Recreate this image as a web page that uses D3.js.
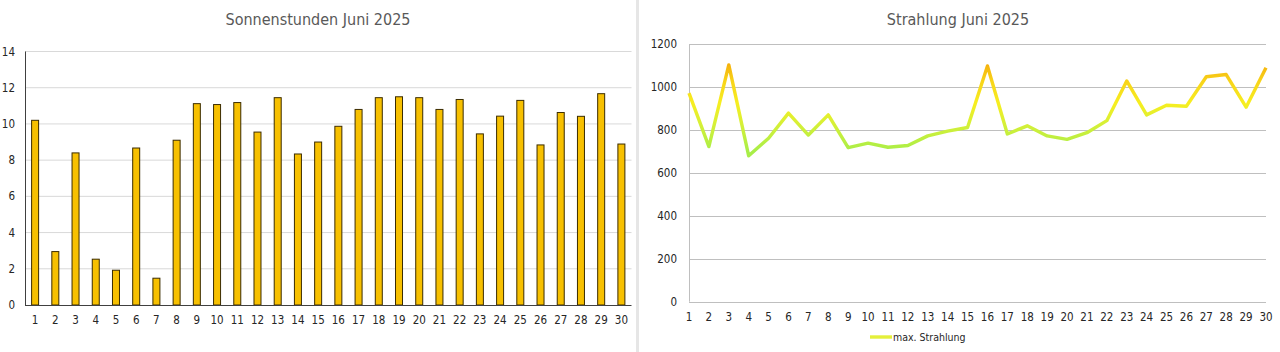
<!DOCTYPE html>
<html>
<head>
<meta charset="utf-8">
<script src="https://cdn.jsdelivr.net/npm/d3@7"></script>
<style>
  body { margin: 0; background: #fff; }
  text { font-family: "DejaVu Sans Condensed", "DejaVu Sans", sans-serif; }
</style>
</head>
<body>
<div id="chart"></div>
<script>
// data
const days = d3.range(1, 31);
const sunHours = [10.2, 2.95, 8.4, 2.53, 1.92, 8.67, 1.48, 9.1, 11.12, 11.07,
  11.18, 9.55, 11.45, 8.34, 9.0, 9.87, 10.8, 11.45, 11.5, 11.45,
  10.8, 11.35, 9.45, 10.43, 11.3, 8.84, 10.63, 10.42, 11.67, 8.89];
const radiation = [972, 723, 1104, 680, 762, 879, 777, 871, 718, 739,
  720, 728, 773, 795, 812, 1099, 782, 820, 773, 757,
  788, 844, 1029, 871, 916, 911, 1049, 1059, 907, 1091];
const sunTicks = [0, 2, 4, 6, 8, 10, 12, 14];
const radTicks = [0, 200, 400, 600, 800, 1000, 1200];

const svg = d3.select("#chart").append("svg")
    .attr("width", 1280)
    .attr("height", 352);

// divider between the two charts
svg.append("rect")
    .attr("x", 636).attr("y", 0)
    .attr("width", 3).attr("height", 352)
    .attr("fill", "#e6e6e6");

// ---- left: Sonnenstunden ----
const x1 = d3.scaleBand().domain(days).range([25, 631.5]);
const y1 = d3.scaleLinear().domain([0, 14]).range([305, 51.5]);

svg.append("text")
    .attr("x", 318).attr("y", 25)
    .attr("text-anchor", "middle")
    .attr("font-size", 16)
    .attr("fill", "#595959")
    .text("Sonnenstunden Juni 2025");

svg.append("g")
    .selectAll("line")
    .data(sunTicks.slice(1))
    .join("line")
    .attr("x1", 25).attr("x2", 631.5)
    .attr("y1", d => y1(d)).attr("y2", d => y1(d))
    .attr("stroke", "#d9d9d9");

svg.append("g")
    .selectAll("text")
    .data(sunTicks)
    .join("text")
    .attr("x", 15).attr("y", d => y1(d) + 4)
    .attr("text-anchor", "end")
    .attr("font-size", 11.5)
    .attr("fill", "#262626")
    .text(d => d);

svg.append("g")
    .selectAll("rect")
    .data(sunHours)
    .join("rect")
    .attr("x", (d, i) => x1(days[i]) + x1.bandwidth() / 2 - 3.5)
    .attr("y", d => y1(d))
    .attr("width", 7)
    .attr("height", d => y1(0) - y1(d))
    .attr("fill", "#f7c000")
    .attr("stroke", "#3b2c00")
    .attr("stroke-width", 1);

svg.append("line")
    .attr("x1", 25.5).attr("x2", 25.5)
    .attr("y1", 51.5).attr("y2", 305)
    .attr("stroke", "#404040");
svg.append("line")
    .attr("x1", 25).attr("x2", 631.5)
    .attr("y1", 305.5).attr("y2", 305.5)
    .attr("stroke", "#404040");

svg.append("g")
    .selectAll("text")
    .data(days)
    .join("text")
    .attr("x", d => x1(d) + x1.bandwidth() / 2)
    .attr("y", 324)
    .attr("text-anchor", "middle")
    .attr("font-size", 11.5)
    .attr("fill", "#262626")
    .text(d => d);

// ---- right: Strahlung ----
const x2 = d3.scalePoint().domain(days).range([689, 1266]);
const y2 = d3.scaleLinear().domain([0, 1200]).range([301.7, 44.3]);

svg.append("text")
    .attr("x", 958).attr("y", 25)
    .attr("text-anchor", "middle")
    .attr("font-size", 16)
    .attr("fill", "#595959")
    .text("Strahlung Juni 2025");

svg.append("g")
    .selectAll("line")
    .data(radTicks)
    .join("line")
    .attr("x1", 689).attr("x2", 1266)
    .attr("y1", d => Math.round(y2(d)) + 0.5).attr("y2", d => Math.round(y2(d)) + 0.5)
    .attr("stroke", "#bfbfbf");

svg.append("line")
    .attr("x1", 689.5).attr("x2", 689.5)
    .attr("y1", y2(1200)).attr("y2", y2(0))
    .attr("stroke", "#bfbfbf");

svg.append("g")
    .selectAll("text")
    .data(radTicks)
    .join("text")
    .attr("x", 677).attr("y", d => y2(d) + 4)
    .attr("text-anchor", "end")
    .attr("font-size", 11.5)
    .attr("fill", "#262626")
    .text(d => d);

svg.append("g")
    .selectAll("text")
    .data(days)
    .join("text")
    .attr("x", d => x2(d))
    .attr("y", 321)
    .attr("text-anchor", "middle")
    .attr("font-size", 11.5)
    .attr("fill", "#262626")
    .text(d => d);

// vertical colour gradient by value
const grad = svg.append("defs").append("linearGradient")
    .attr("id", "radGrad")
    .attr("gradientUnits", "userSpaceOnUse")
    .attr("x1", 0).attr("x2", 0)
    .attr("y1", y2(700)).attr("y2", y2(1110));
grad.append("stop").attr("offset", "0%").attr("stop-color", "#a8ee48");
grad.append("stop").attr("offset", "30%").attr("stop-color", "#d4f038");
grad.append("stop").attr("offset", "55%").attr("stop-color", "#f7ee20");
grad.append("stop").attr("offset", "80%").attr("stop-color", "#f8d41a");
grad.append("stop").attr("offset", "100%").attr("stop-color", "#f5b00c");

svg.append("path")
    .datum(radiation)
    .attr("fill", "none")
    .attr("stroke", "url(#radGrad)")
    .attr("stroke-width", 3.4)
    .attr("stroke-linejoin", "round")
    .attr("d", d3.line()
        .x((d, i) => x2(days[i]))
        .y(d => y2(d)));

// legend
svg.append("line")
    .attr("x1", 870).attr("x2", 892)
    .attr("y1", 337).attr("y2", 337)
    .attr("stroke", "#e4f03a")
    .attr("stroke-width", 3.4);
svg.append("text")
    .attr("x", 893).attr("y", 341)
    .attr("font-size", 10.5)
    .attr("fill", "#262626")
    .text("max. Strahlung");
</script>
</body>
</html>
